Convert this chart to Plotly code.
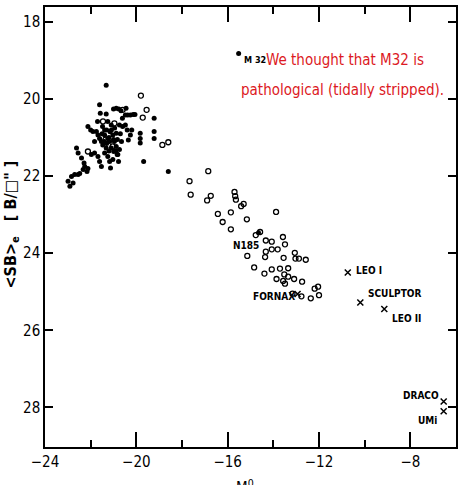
import plotly.graph_objects as go

# filled dots (ellipticals / bulges), M_B^0 vs <SB>_e
filled_mb = [-21.32, -21.61, -21.58, -21.32, -21.00, -20.88, -20.77, -20.67, -20.45, -20.48,
             -20.38, -20.26, -20.14, -20.06, -21.25, -21.10, -20.74, -20.60, -20.48, -20.40,
             -22.12, -22.00, -21.90, -21.75, -21.68, -21.61, -21.53, -21.39, -21.25, -21.17,
             -21.47, -21.32, -21.10, -21.03, -20.88, -20.96, -20.88, -20.99, -20.84, -20.20,
             -20.26, -20.35, -19.83, -19.83, -19.83, -19.68, -19.22, -19.22, -19.22, -18.60,
             -22.62, -22.55, -22.40, -22.29, -21.97, -21.83, -21.68, -21.61, -21.53, -21.39,
             -21.25, -21.17, -21.13, -21.03, -20.81, -20.74, -22.99, -22.91, -22.77, -22.84,
             -22.70, -22.55, -22.48, -22.33, -22.26, -22.16, -22.12, -21.48, -21.70, -21.83,
             -21.39, -21.30, -21.09, -20.83, -20.65, -20.78, -20.61,
             -21.20, -21.00, -21.15, -21.40, -20.95, -21.30, -20.70, -21.50, -20.90, -21.20,
             -14.65, -15.52]
filled_sb = [19.64, 20.15, 20.37, 20.39, 20.26, 20.24, 20.26, 20.30, 20.24, 20.41,
             20.41, 20.41, 20.40, 20.40, 20.58, 20.67, 20.67, 20.71, 20.67, 20.80,
             20.71, 20.80, 20.84, 20.84, 20.93, 21.02, 21.10, 20.93, 21.02, 21.10,
             21.19, 21.27, 21.27, 20.93, 20.89, 21.10, 21.23, 21.36, 21.44, 20.80,
             20.93, 21.06, 20.89, 21.02, 21.14, 21.62, 20.50, 20.84, 21.02, 21.88,
             21.27, 21.40, 21.53, 21.66, 21.44, 21.40, 21.49, 21.62, 21.75, 21.40,
             21.49, 21.62, 21.79, 21.57, 21.44, 21.31, 22.13, 22.26, 22.18, 22.01,
             21.96, 21.96, 21.93, 21.83, 21.75, 21.88, 21.80, 20.71, 20.58, 21.10,
             20.80, 21.15, 20.80, 21.05, 21.10, 21.62, 20.50,
             21.00, 21.05, 20.85, 21.10, 20.75, 20.80, 20.90, 20.90, 21.35, 21.35,
             23.47, 18.82]

# open circles (dwarf ellipticals)
open_mb = [-21.46, -20.96, -20.60, -22.12, -21.35, -21.04,
           -19.80, -19.55, -19.72, -18.86, -18.60, -17.67, -17.62, -16.85, -16.90, -16.74,
           -16.43, -16.22, -15.70, -15.67, -15.64, -15.41, -15.30, -15.86, -15.86, -15.16,
           -13.88, -14.77, -14.58, -14.33, -14.07, -13.58, -13.49, -13.81, -14.07, -14.33,
           -14.36, -15.14, -13.55, -13.06, -13.03, -12.88, -12.58, -14.84, -14.39, -14.07,
           -13.71, -13.35, -13.52, -13.35, -13.86, -13.57, -13.49, -13.09, -12.74, -13.16,
           -12.77, -12.36, -12.19, -12.04, -12.00]
open_sb = [20.58, 20.63, 20.28, 21.36, 21.05, 21.23,
           19.91, 20.28, 20.48, 21.19, 21.12, 22.13, 22.48, 21.87, 22.63, 22.51,
           22.98, 23.19, 22.41, 22.52, 22.61, 22.78, 22.72, 22.94, 23.38, 23.12,
           22.93, 23.53, 23.45, 23.67, 23.70, 23.58, 23.77, 23.90, 23.90, 23.96,
           24.10, 24.07, 24.12, 23.99, 24.14, 24.14, 24.17, 24.37, 24.53, 24.42,
           24.40, 24.39, 24.55, 24.61, 24.67, 24.72, 24.79, 24.67, 24.74, 25.05,
           25.12, 25.17, 24.92, 24.87, 25.09]

# crosses (local dwarf spheroidals)
dsph_names = ["FORNAX", "LEO I", "SCULPTOR", "LEO II", "DRACO", "UMi"]
dsph_mb = [-12.94, -10.74, -10.19, -9.14, -6.54, -6.54]
dsph_sb = [25.06, 24.50, 25.28, 25.45, 27.85, 28.10]

NARROW = "DejaVu Sans Condensed, Liberation Sans Narrow, sans-serif"

fig = go.Figure()
fig.add_trace(go.Scatter(x=filled_mb, y=filled_sb, mode="markers",
                         marker=dict(symbol="circle", size=5, color="black")))
fig.add_trace(go.Scatter(x=open_mb, y=open_sb, mode="markers",
                         marker=dict(symbol="circle-open", size=5, color="black",
                                     line=dict(width=1.3))))
fig.add_trace(go.Scatter(x=dsph_mb, y=dsph_sb, mode="markers",
                         marker=dict(symbol="x-thin-open", size=6, color="black",
                                     line=dict(width=1.5, color="black"))))

# galaxy labels: (text, x, y, xanchor, size)
labels = [("M 32", -15.39, 18.98, "left", 9),
          ("N185", -15.87, 23.79, "left", 10),
          ("FORNAX", -15.0, 25.13, "left", 10),
          ("LEO I", -10.48, 24.46, "left", 10),
          ("SCULPTOR", -9.96, 25.05, "left", 10),
          ("LEO II", -8.87, 25.70, "left", 10),
          ("DRACO", -6.65, 27.69, "right", 10),
          ("UMi", -6.75, 28.34, "right", 10)]
for txt, lx, ly, anc, fs in labels:
    fig.add_annotation(x=lx, y=ly, text=f"<b>{txt}</b>", showarrow=False, xanchor=anc,
                       yanchor="middle", font=dict(family=NARROW, size=fs, color="black"))

red = "rgb(220,25,35)"
fig.add_annotation(x=-10.85, y=18.98, text="We thought that M32 is", showarrow=False,
                   xanchor="center", yanchor="middle", font=dict(family=NARROW, size=15, color=red))
fig.add_annotation(x=-10.98, y=19.76, text="pathological (tidally stripped).", showarrow=False,
                   xanchor="center", yanchor="middle", font=dict(family=NARROW, size=15, color=red))

# axis titles
fig.add_annotation(xref="paper", yref="paper", x=-0.081, y=0.505, textangle=-90,
                   xanchor="center", yanchor="middle",
                   text="<b>&lt;SB&gt;<sub>e</sub>   [ B/□\" ]</b>", showarrow=False,
                   font=dict(family=NARROW, size=16, color="black"))
fig.add_annotation(xref="paper", yref="paper", x=0.487, y=-0.064, yanchor="top",
                   text="M<sup>0</sup>", showarrow=False,
                   font=dict(family=NARROW, size=15, color="black"))

fig.update_xaxes(range=[-24, -6], tick0=-24, dtick=4, ticks="inside", ticklen=15, tickwidth=1.5,
                 tickcolor="black", showline=True, linewidth=2, linecolor="black", mirror="ticks",
                 showgrid=False, zeroline=False,
                 minor=dict(dtick=2, tick0=-24, ticks="inside", ticklen=7, tickwidth=1.5,
                            tickcolor="black", showgrid=False),
                 tickfont=dict(family=NARROW, size=15, color="black"))
fig.update_yaxes(range=[29.03, 17.61], tick0=18, dtick=2, ticks="inside", ticklen=8, tickwidth=1.5,
                 tickcolor="black", showline=True, linewidth=1.5, linecolor="black", mirror="ticks",
                 showgrid=False, zeroline=False,
                 tickfont=dict(family=NARROW, size=15, color="black"))
fig.update_layout(width=463, height=485, margin=dict(l=45, r=5, t=5, b=38),
                  plot_bgcolor="white", paper_bgcolor="white", showlegend=False)

fig.write_html("out.html", config={"displayModeBar": False},
               post_script="document.body.style.margin='0';")
